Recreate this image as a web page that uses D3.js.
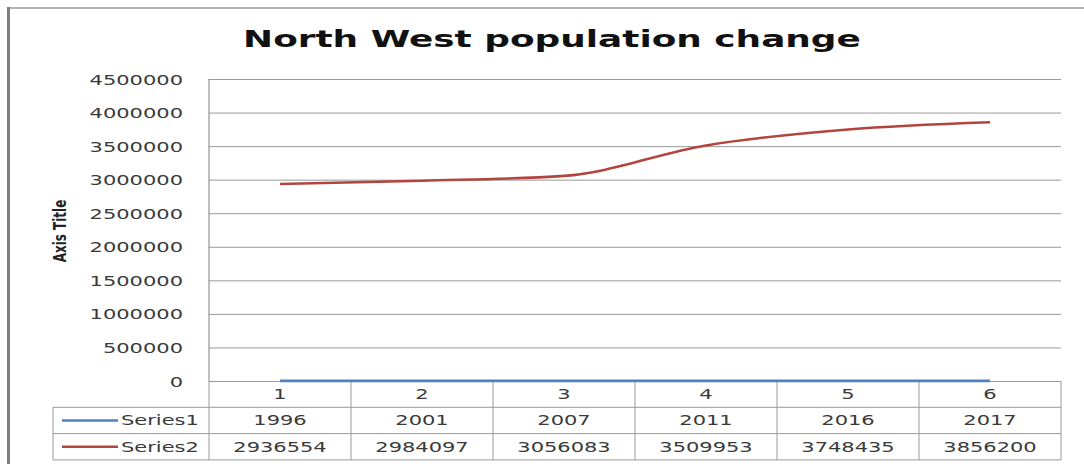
<!DOCTYPE html>
<html>
<head>
<meta charset="utf-8">
<script src="https://cdn.jsdelivr.net/npm/d3@7"></script>
<style>
  body { margin: 0; background: #fff; }
  text { font-family: "DejaVu Sans", sans-serif; }
</style>
</head>
<body>
<svg></svg>
<script>
const categories = [1, 2, 3, 4, 5, 6];
const series1 = [1996, 2001, 2007, 2011, 2016, 2017];
const series2 = [2936554, 2984097, 3056083, 3509953, 3748435, 3856200];
const seriesNames = ['Series1', 'Series2'];
const yTicks = [0, 500000, 1000000, 1500000, 2000000, 2500000, 3000000, 3500000, 4000000, 4500000];
const title = 'North West population change';
const yTitle = 'Axis Title';

const svg = d3.select('svg')
	.attr('width', 1084)
	.attr('height', 464);

const stretch = 1.5,
	plotLeft = 209, plotRight = 1061,
	plotTop = 79, plotBottom = 381,
	rowH = 26.3,
	legendLeft = 53,
	gridColor = '#9a9a9a',
	textColor = '#3a3a3a',
	colors = ['#4f81bd', '#b3453f'];

const xScale = d3.scaleBand()
	.domain(categories)
	.range([plotLeft, plotRight]);

const yScale = d3.scaleLinear()
	.domain([0, 4500000])
	.range([plotBottom, plotTop]);

// outer chart border
svg.append('line')
	.attr('x1', 8).attr('x2', 1084).attr('y1', 8).attr('y2', 8)
	.attr('stroke', '#b4b4b4').attr('stroke-width', 2);
svg.append('line')
	.attr('x1', 8.5).attr('x2', 8.5).attr('y1', 7).attr('y2', 464)
	.attr('stroke', '#7f7f7f').attr('stroke-width', 3);

// title
svg.append('text')
	.attr('transform', `translate(552, 47) scale(1.56, 1)`)
	.attr('text-anchor', 'middle')
	.attr('font-size', 23)
	.attr('font-weight', 'bold')
	.attr('fill', '#111')
	.text(title);

// y axis with gridlines
const yAxis = d3.axisLeft(yScale)
	.tickValues(yTicks)
	.tickFormat(d3.format('d'))
	.tickSize(-(plotRight - plotLeft))
	.tickPadding(0);

const yAxisG = svg.append('g')
	.attr('transform', `translate(${plotLeft}, 0)`)
	.call(yAxis);
yAxisG.select('.domain').remove();
yAxisG.selectAll('.tick line')
	.attr('stroke', gridColor);
yAxisG.selectAll('.tick text')
	.attr('x', 0)
	.attr('dy', '0.36em')
	.attr('transform', `translate(-26, 0) scale(${stretch}, 1)`)
	.attr('font-size', 14)
	.attr('fill', textColor);

svg.append('text')
	.attr('transform', `translate(66, 231) rotate(-90) scale(1, ${stretch})`)
	.attr('text-anchor', 'middle')
	.attr('font-size', 12)
	.attr('font-weight', 'bold')
	.attr('fill', '#222')
	.text(yTitle);

// category row (x axis)
const xAxis = d3.axisBottom(xScale)
	.tickSize(0)
	.tickPadding(0);
const xAxisG = svg.append('g')
	.attr('transform', `translate(0, ${plotBottom})`)
	.call(xAxis);
xAxisG.select('.domain').remove();
xAxisG.selectAll('.tick text')
	.attr('y', 0)
	.attr('dy', 0)
	.attr('transform', `translate(0, ${rowH / 2 + 5}) scale(${stretch}, 1)`)
	.attr('font-size', 14)
	.attr('fill', textColor);

// data table grid
const tableBottom = plotBottom + rowH * 3;
const grid = svg.append('g')
	.attr('stroke', gridColor)
	.attr('stroke-width', 1);

const bounds = categories.map(c => xScale(c)).concat([plotRight]);
grid.selectAll('line.v')
	.data(bounds)
	.join('line')
	.attr('x1', d => d).attr('x2', d => d)
	.attr('y1', plotBottom).attr('y2', tableBottom);
grid.append('line')
	.attr('x1', legendLeft).attr('x2', legendLeft)
	.attr('y1', plotBottom + rowH).attr('y2', tableBottom);
grid.selectAll('line.h')
	.data([1, 2, 3])
	.join('line')
	.attr('x1', legendLeft).attr('x2', plotRight)
	.attr('y1', d => plotBottom + rowH * d).attr('y2', d => plotBottom + rowH * d);

// value axis line
svg.append('line')
	.attr('x1', plotLeft).attr('x2', plotLeft)
	.attr('y1', plotTop).attr('y2', plotBottom)
	.attr('stroke', '#7f7f7f');

// lines
const allSeries = [series1, series2];
const lineGenerator = d3.line()
	.x((d, i) => xScale(categories[i]) + xScale.bandwidth() / 2)
	.y(d => yScale(d))
	.curve(d3.curveMonotoneX);

svg.selectAll('path.series')
	.data(allSeries)
	.join('path')
	.attr('class', 'series')
	.attr('fill', 'none')
	.attr('stroke', (d, i) => colors[i])
	.attr('stroke-width', 2.6)
	.attr('d', d => lineGenerator(d));

// table rows
allSeries.forEach((values, r) => {
	const cy = plotBottom + rowH * (r + 1.5);
	svg.append('line')
		.attr('x1', 62).attr('x2', 118)
		.attr('y1', cy).attr('y2', cy)
		.attr('stroke', colors[r])
		.attr('stroke-width', 2.6);
	svg.append('text')
		.attr('transform', `translate(121, ${cy + 5}) scale(${stretch}, 1)`)
		.attr('font-size', 14)
		.attr('fill', textColor)
		.text(seriesNames[r]);
	svg.selectAll(null)
		.data(values)
		.join('text')
		.attr('transform', (d, i) => `translate(${xScale(categories[i]) + xScale.bandwidth() / 2}, ${cy + 5}) scale(${stretch}, 1)`)
		.attr('text-anchor', 'middle')
		.attr('font-size', 14)
		.attr('fill', textColor)
		.text(d => d);
});
</script>
</body>
</html>
